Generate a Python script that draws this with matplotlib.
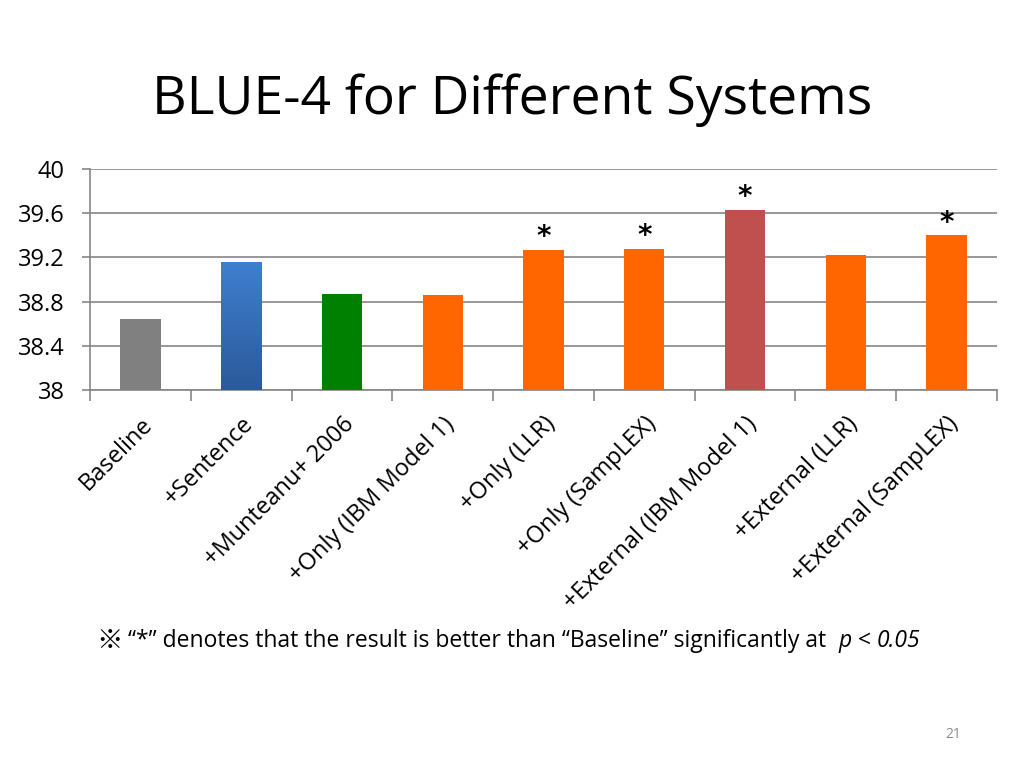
import matplotlib.pyplot as plt
import numpy as np
from matplotlib.colors import LinearSegmentedColormap

# BLEU-4 scores
systems = ['Baseline', '+Sentence', '+Munteanu+ 2006', '+Only (IBM Model 1)',
           '+Only (LLR)', '+Only (SampLEX)', '+External (IBM Model 1)',
           '+External (LLR)', '+External (SampLEX)']
scores = [38.64, 39.16, 38.87, 38.86, 39.27, 39.28, 39.63, 39.22, 39.40]
significant = [False, False, False, False, True, True, True, False, True]
bar_colors = ['#808080', '#3a76c4', '#008000', '#ff6600', '#ff6600',
              '#ff6600', '#c0504d', '#ff6600', '#ff6600']
y_ticks = [38, 38.4, 38.8, 39.2, 39.6, 40]
y_tick_labels = ['38', '38.4', '38.8', '39.2', '39.6', '40']

plt.rcParams['font.family'] = ['Open Sans', 'Noto Sans CJK SC', 'DejaVu Sans']

fig = plt.figure(figsize=(10.24, 7.68), dpi=100)
ax = fig.add_axes([90 / 1024, 1 - 390 / 768, 907 / 1024, 221 / 768])

x = np.arange(len(systems))
bars = ax.bar(x, scores, width=0.4, color=bar_colors, zorder=3)

# gradient on the "+Sentence" bar
b = bars[1]
grad = np.linspace(0, 1, 100).reshape(-1, 1)
cmap = LinearSegmentedColormap.from_list('blue', ['#2b5a9a', '#3f7fd0'])
img = ax.imshow(grad, cmap=cmap, aspect='auto', origin='lower',
                extent=[b.get_x(), b.get_x() + b.get_width(), 38, b.get_height()],
                zorder=4)
img.set_clip_path(b)

for xi, s, sig in zip(x, scores, significant):
    if sig:
        ax.annotate('*', (xi, s), xytext=(0, -1), textcoords='offset points',
                    ha='center', va='bottom', fontsize=20, fontweight='bold',
                    family='DejaVu Sans', zorder=5)

ax.set_ylim(38, 40)
ax.set_yticks(y_ticks)
ax.set_yticklabels(y_tick_labels, fontsize=17)
ax.yaxis.grid(True, color='#868686', linewidth=1.2, zorder=0)

ax.set_xticks(np.arange(len(systems) + 1) - 0.5, minor=True)
ax.set_xticks(x)
ax.set_xticklabels(systems, rotation=45, ha='right', va='top',
                   rotation_mode='anchor', fontsize=17)
ax.tick_params(axis='x', which='major', length=0, pad=16)
ax.tick_params(axis='x', which='minor', length=8, color='#868686', width=1.2)
ax.tick_params(axis='y', length=6, color='#868686', width=1.2, pad=12)
for side in ['top', 'right']:
    ax.spines[side].set_visible(False)
for side in ['left', 'bottom']:
    ax.spines[side].set_color('#868686')
    ax.spines[side].set_linewidth(1.2)

ax.set_xlim(-0.5, len(systems) - 0.5)

fig.text(512 / 1024, 1 - 100 / 768, 'BLUE-4 for Different Systems',
         ha='center', va='center', fontsize=38.5)

# footnote built from pieces so the mark and the italic parts render right
pieces = [('※', 'Noto Sans CJK SC', 'normal', 19),
          (' “*” denotes that the result is better than “Baseline” significantly at  ', 'Open Sans', 'normal', 16.5),
          ('p', 'Open Sans', 'italic', 16.5),
          (' < ', 'Open Sans', 'normal', 16.5),
          ('0.05', 'Open Sans', 'italic', 16.5)]
renderer = fig.canvas.get_renderer()
xpos = 96 / 1024
for txt, fam, sty, fs in pieces:
    t = fig.text(xpos, 1 - 638 / 768, txt, ha='left', va='center_baseline',
                 fontsize=fs, family=fam, style=sty)
    bb = t.get_window_extent(renderer)
    xpos = bb.x1 / fig.bbox.width

fig.text(953 / 1024, 1 - 735 / 768, '21', ha='center', va='center',
         fontsize=10, color='#8a8a8a')

fig.savefig('out.png', dpi=100)
